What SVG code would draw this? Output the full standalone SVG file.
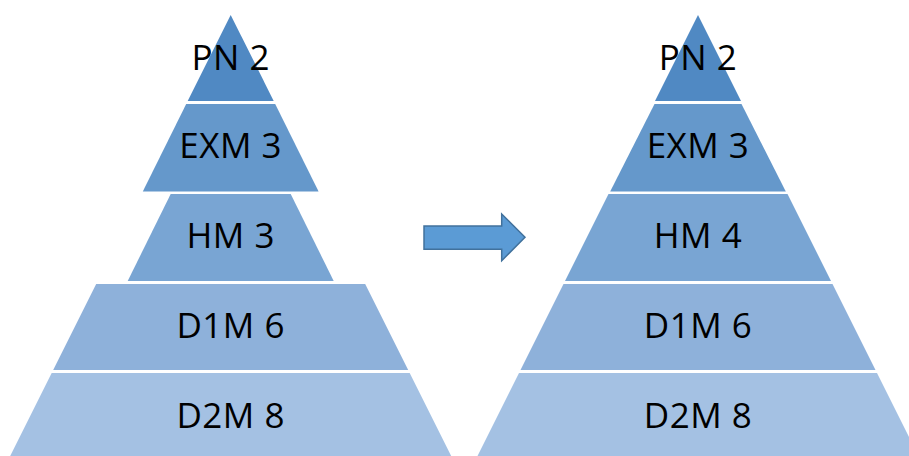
<svg xmlns="http://www.w3.org/2000/svg" width="909" height="456" viewBox="0 0 909 456">
<style>
.t{font-family:"Open Sans","Noto Sans","Liberation Sans",sans-serif;font-size:35px;fill:#000;text-anchor:middle;letter-spacing:0.5px}
.l1{fill:#5089C3}.l2{fill:#6598CB}.l3{fill:#79A5D3}.l4{fill:#8EB1DA}.l5{fill:#A4C1E3}
.arr{fill:#5B9BD5;stroke:#41719C;stroke-width:1.5}
</style>
<rect width="909" height="456" fill="#fff"/>
<g id="left-pyramid">
<g id="L-PN"><polygon class="l1" points="230.7,15 273.7,101 187.7,101"/><text class="t" x="230.7" y="70">PN 2</text></g>
<g id="L-EXM"><polygon class="l2" points="186.2,104 275.2,104 318.6,191.5 142.8,191.5"/><text class="t" x="230.7" y="158">EXM 3</text></g>
<g id="L-HM"><polygon class="l3" points="170.7,194 290.7,194 333.7,281 127.7,281"/><text class="t" x="230.7" y="248">HM 3</text></g>
<g id="L-D1M"><polygon class="l4" points="96.2,284 365.2,284 408.2,370 53.2,370"/><text class="t" x="230.7" y="338">D1M 6</text></g>
<g id="L-D2M"><polygon class="l5" points="51.7,373 409.7,373 451.2,456 10.2,456"/><text class="t" x="230.7" y="428">D2M 8</text></g>
</g>
<g id="right-pyramid">
<g id="R-PN"><polygon class="l1" points="698,15 741,101 655,101"/><text class="t" x="698" y="70">PN 2</text></g>
<g id="R-EXM"><polygon class="l2" points="654.5,104 741.5,104 785.8,191.5 610.2,191.5"/><text class="t" x="698" y="158">EXM 3</text></g>
<g id="R-HM"><polygon class="l3" points="608.5,194 787.5,194 831,281 565,281"/><text class="t" x="698" y="248">HM 4</text></g>
<g id="R-D1M"><polygon class="l4" points="563.5,284 832.5,284 875.5,370 520.5,370"/><text class="t" x="698" y="338">D1M 6</text></g>
<g id="R-D2M"><polygon class="l5" points="519,373 877,373 918.5,456 477.5,456"/><text class="t" x="698" y="428">D2M 8</text></g>
</g>
<g id="connectors">
<polygon class="arr" points="424,226 501.7,226 501.7,214 525,237.3 501.7,260.7 501.7,249.3 424,249.3"/>
</g>
</svg>
